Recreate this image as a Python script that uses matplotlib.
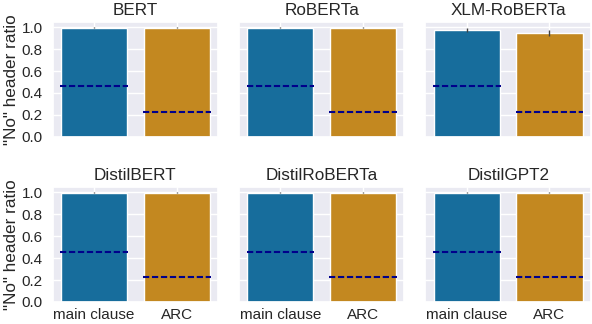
import matplotlib
matplotlib.use("Agg")
import matplotlib.pyplot as plt
import seaborn as sns
import numpy as np

models = ["BERT", "RoBERTa", "XLM-RoBERTa", "DistilBERT", "DistilRoBERTa", "DistilGPT2"]
categories = ["main clause", "ARC"]
main_clause = [0.995, 0.995, 0.975, 0.997, 0.997, 0.997]
arc = [0.995, 0.995, 0.945, 0.997, 0.997, 0.997]
main_err = [0.004, 0.004, 0.02, 0.003, 0.003, 0.003]
arc_err = [0.004, 0.004, 0.025, 0.003, 0.003, 0.003]
baselines = [0.46, 0.23]
yticks = [0.0, 0.2, 0.4, 0.6, 0.8, 1.0]

sns.set_theme(style="darkgrid", palette="colorblind")
plt.rcParams["font.family"] = ["Liberation Sans", "DejaVu Sans"]

pal = sns.color_palette("colorblind")
colors = [sns.desaturate(pal[0], 0.75), sns.desaturate(pal[1], 0.75)]

fig, axes = plt.subplots(2, 3, figsize=(5.92, 3.24), dpi=100, sharex=True, sharey=True)
fig.subplots_adjust(left=0.089, right=0.998, top=0.933, bottom=0.068, wspace=0.127, hspace=0.435)

x = np.arange(len(categories))
for i, ax in enumerate(axes.flat):
    vals = [main_clause[i], arc[i]]
    errs = [main_err[i], arc_err[i]]
    ax.bar(x, vals, width=0.8, color=colors, edgecolor="white", linewidth=1.0, zorder=2)
    ax.errorbar(x, vals, yerr=errs, fmt="none", ecolor="0.26", elinewidth=1.0, zorder=3)
    for j, b in enumerate(baselines):
        ax.plot([x[j] - 0.41, x[j] + 0.41], [b, b], color="darkblue", linestyle=(0, (3, 1.3)),
                linewidth=1.5, zorder=4)
    ax.set_title(models[i], fontsize=12.3, pad=5)
    ax.set_xlim(-0.5, 1.5)
    ax.set_ylim(0, 1.05)
    ax.set_yticks(yticks)
    ax.set_xticks(x)
    ax.set_xticklabels(categories)
    ax.tick_params(axis="x", labelsize=11, pad=4, length=0)
    ax.tick_params(axis="y", labelsize=11, pad=7, length=0)
    if i % 3 == 0:
        ax.set_ylabel('"No" header ratio', fontsize=12.3, labelpad=2)

fig.savefig("out.png", dpi=100)
